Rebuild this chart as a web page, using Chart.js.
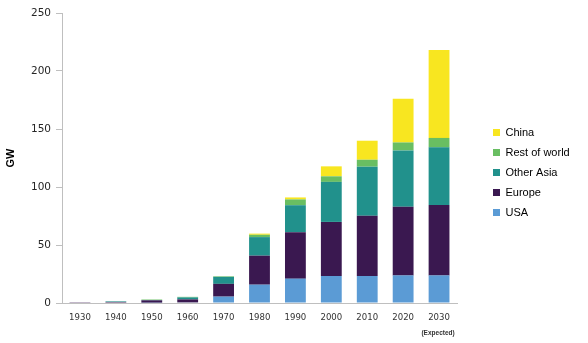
<!DOCTYPE html>
<html><head><meta charset="utf-8">
<script src="https://cdn.jsdelivr.net/npm/chart.js@4"></script>
<style>html,body{margin:0;padding:0;background:#fff}#wrap{width:588px;height:343px;position:relative}</style>
</head><body><div id="wrap"><canvas id="c" width="588" height="343"></canvas></div>
<script>
const years = ['1930','1940','1950','1960','1970','1980','1990','2000','2010','2020','2030'];
const usa       = [0,   0,   0.3, 0.5, 5.5, 15.8, 21,   23.3, 23.3, 23.8, 23.8];
const europe    = [0.7, 0.9, 2,   2.6, 11,  25,   40,   46.6, 52,   59.2, 60.7];
const otherAsia = [0,   0.5, 0.3, 1.7, 6,   16,   23.3, 34.5, 42.2, 48.5, 49.7];
const restWorld = [0,   0,   0.4, 0.5, 0.5, 2,    5,    4.8,  6,    6.9,  8.1];
const china     = [0,   0,   0,   0,   0,   1,    1.7,  8.6,  16.4, 37.7, 75.8];
const seriesNames = ['USA','Europe','Other Asia','Rest of world','China'];
const yTicks = [0, 50, 100, 150, 200, 250];
const expectedNote = '(Expected)';

const colors = ['#5B9BD5','#3A1850','#21918C','#69BE62','#F8E620'];
const legendFontSize = 11;
const legendFamily = "'Liberation Sans', Arial, sans-serif";
const mctx = document.createElement('canvas').getContext('2d');
mctx.font = legendFontSize + 'px ' + legendFamily;
const maxW = Math.max(...seriesNames.map(n => mctx.measureText(n).width));
const legendPad = 9, boxW = 7;
const legendW = legendPad + boxW + legendFontSize / 2 + maxW + 10;
const plotRight = 457;
const padRight = Math.max(0, 588 - plotRight - legendW);

const shiftLegend = {
  id: 'shiftLegend',
  afterLayout(chart) {
    const lg = chart.legend;
    const w = lg.right - lg.left;
    lg.left = 484; lg.right = 484 + w;
    const h = lg.bottom - lg.top;
    lg.top = 118; lg.bottom = 118 + h;
  }
};
const expectedPlugin = {
  id: 'expected',
  afterDraw(chart) {
    const x = chart.scales.x.getPixelForValue(10);
    const ctx = chart.ctx;
    ctx.save();
    ctx.font = "bold 6.5px 'Liberation Sans', Arial, sans-serif";
    ctx.fillStyle = '#333';
    ctx.textAlign = 'center';
    ctx.textBaseline = 'middle';
    ctx.fillText(expectedNote, x - 1, 333);
    ctx.restore();
  }
};

const data = [usa, europe, otherAsia, restWorld, china];
new Chart(document.getElementById('c'), {
  type: 'bar',
  data: {
    labels: years,
    datasets: seriesNames.map((n, i) => ({
      label: n, data: data[i], backgroundColor: colors[i], borderWidth: 0,
      barPercentage: 0.58, categoryPercentage: 1
    }))
  },
  options: {
    responsive: false, animation: false, devicePixelRatio: 1,
    layout: { padding: { top: 13, right: padRight, bottom: 0, left: 0 } },
    plugins: {
      tooltip: { enabled: false },
      legend: {
        position: 'right', align: 'start', reverse: true,
        labels: { boxWidth: boxW, boxHeight: 7, padding: legendPad, color: '#000',
          font: { size: legendFontSize, family: legendFamily } }
      }
    },
    scales: {
      x: {
        stacked: true,
        grid: { display: false, drawTicks: false },
        border: { display: true, color: '#bfbfbf' },
        ticks: { padding: 9, color: '#333', font: { size: 9.5, family: "'DejaVu Sans Condensed', 'DejaVu Sans', sans-serif" } },
        afterFit(s) { s.height = 40; }
      },
      y: {
        stacked: true, min: 0, max: 250,
        afterBuildTicks(s) { s.ticks = yTicks.map(v => ({ value: v })); },
        grid: { drawOnChartArea: false, tickLength: 6, color: '#bfbfbf' },
        border: { display: true, color: '#bfbfbf' },
        ticks: { padding: 5, color: '#262626', font: { size: 10.5, family: "'DejaVu Sans', sans-serif" } },
        title: { display: true, text: 'GW', color: '#000', padding: { top: 4, bottom: 4 },
          font: { size: 11, weight: 'bold', family: "'Liberation Sans', Arial, sans-serif" } },
        afterFit(s) { s.width = 62; }
      }
    }
  },
  plugins: [shiftLegend, expectedPlugin]
});
</script></body></html>
